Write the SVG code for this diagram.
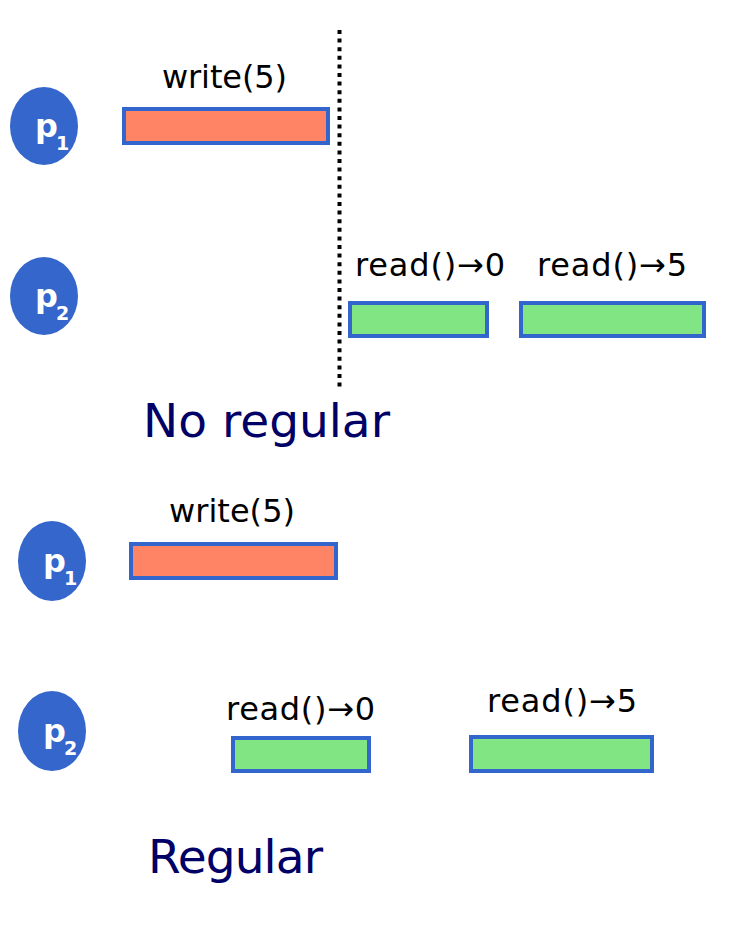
<svg xmlns="http://www.w3.org/2000/svg" width="753" height="925" viewBox="0 0 753 925">
<style>
.proc{fill:#3466cc}
.pl{fill:#ffffff;font-family:"DejaVu Sans",Verdana,sans-serif;font-size:32px;font-weight:bold}
.ps{fill:#ffffff;font-family:"DejaVu Sans",Verdana,sans-serif;font-size:19px;font-weight:bold}
.op{stroke:#3366cc;stroke-width:4}
.w{fill:#ff8466}
.r{fill:#82e584}
.lab{fill:#000000;font-family:"DejaVu Sans",Verdana,sans-serif;font-size:32px}
.title{fill:#000066;font-family:"DejaVu Sans",Verdana,sans-serif;font-size:47px}
</style>
<rect width="753" height="925" fill="#ffffff"/>
<g id="connectors">
<line x1="339.5" y1="30" x2="339.5" y2="390" stroke="#000000" stroke-width="4" stroke-dasharray="4 4.6"/>
</g>
<g id="top-p1"><ellipse class="proc" cx="44" cy="126" rx="34" ry="39"/><text class="pl" x="35" y="137">p</text><text class="ps" x="56" y="150">1</text></g>
<g id="top-p2"><ellipse class="proc" cx="44" cy="296" rx="34" ry="39"/><text class="pl" x="35" y="307">p</text><text class="ps" x="56" y="320">2</text></g>
<g id="top-write"><rect class="op w" x="124" y="109" width="204" height="34"/><text class="lab" x="162" y="88" textLength="125">write(5)</text></g>
<g id="top-read0"><rect class="op r" x="350" y="303" width="137" height="33"/><text class="lab" x="355" y="276" textLength="150">read()→0</text></g>
<g id="top-read5"><rect class="op r" x="521" y="303" width="183" height="33"/><text class="lab" x="537" y="276" textLength="150">read()→5</text></g>
<text id="title-noregular" class="title" x="143" y="437" textLength="247">No regular</text>
<g id="bot-p1"><ellipse class="proc" cx="52" cy="561" rx="34" ry="40"/><text class="pl" x="43" y="572">p</text><text class="ps" x="64" y="585">1</text></g>
<g id="bot-p2"><ellipse class="proc" cx="52" cy="731" rx="34" ry="40"/><text class="pl" x="43" y="742">p</text><text class="ps" x="64" y="755">2</text></g>
<g id="bot-write"><rect class="op w" x="131" y="544" width="205" height="34"/><text class="lab" x="169" y="522" textLength="126">write(5)</text></g>
<g id="bot-read0"><rect class="op r" x="233" y="738" width="136" height="33"/><text class="lab" x="226" y="720" textLength="149">read()→0</text></g>
<g id="bot-read5"><rect class="op r" x="471" y="737" width="181" height="34"/><text class="lab" x="487" y="712" textLength="150">read()→5</text></g>
<text id="title-regular" class="title" x="148" y="873" textLength="175">Regular</text>
</svg>
